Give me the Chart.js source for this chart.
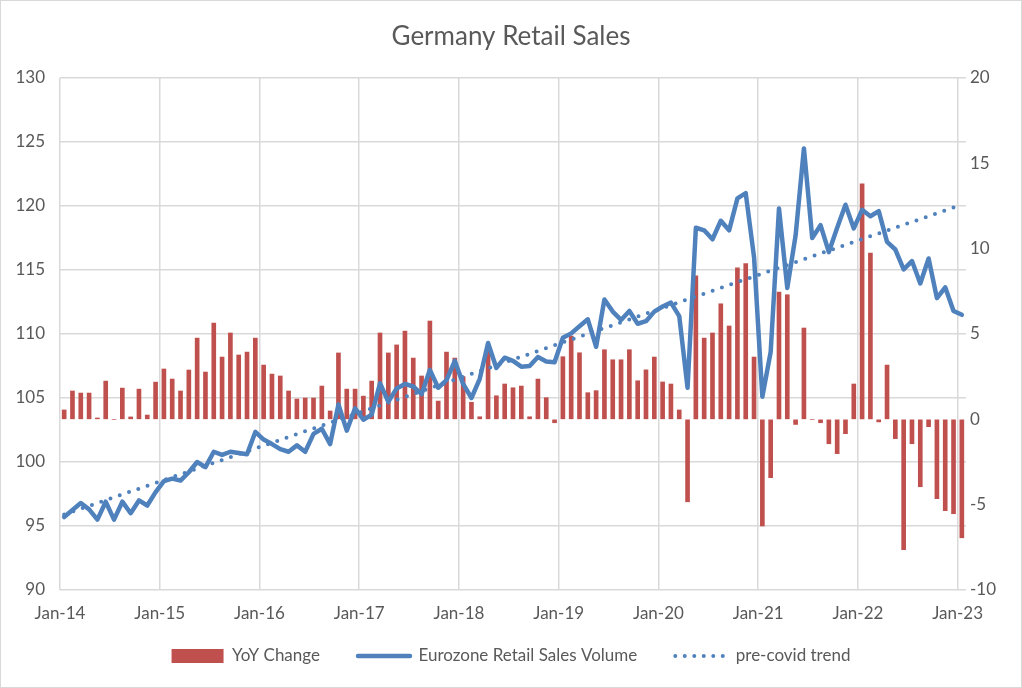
<!DOCTYPE html>
<html lang="en">
<head>
  <meta charset="UTF-8" />
  <title>Germany Retail Sales</title>
  <script src="https://cdn.jsdelivr.net/npm/chart.js"></script>
  <style>
    html, body { margin: 0; padding: 0; background: #fff; }
  </style>
</head>
<body>
<canvas id="chart" width="1022" height="688"></canvas>
<script type="text/javascript">
  // Year ticks on the x axis (one every 12 months, starting Jan-14)
  const tickLabels = ['Jan-14', 'Jan-15', 'Jan-16', 'Jan-17', 'Jan-18', 'Jan-19', 'Jan-20', 'Jan-21', 'Jan-22', 'Jan-23'];

  // YoY change in %, monthly Jan-14 .. Jan-23 (right axis)
  const yoyChange = [
    0.55, 1.66, 1.54, 1.54, 0.08, 2.24, 0, 1.83, 0.14, 1.77, 0.25, 2.18,
    2.95, 2.36, 1.66, 2.89, 4.76, 2.77, 5.64, 3.65, 5.06, 3.77, 3.94, 4.76,
    3.18, 2.65, 2.54, 1.66, 1.19, 1.25, 1.25, 1.95, 0.49, 3.89, 1.77, 1.77,
    1.36, 2.24, 5.06, 3.89, 4.36, 5.17, 3.59, 2.54, 5.76, 1.07, 3.94, 3.59,
    2.5, 1.0, 0.15, 4.2, 1.38, 2.07, 1.85, 1.95, 0.15, 2.36, 1.27, -0.2,
    3.67, 4.88, 3.9, 1.56, 1.68, 4.08, 3.49, 3.49, 4.08, 2.26, 2.9, 3.65,
    2.19, 2.07, 0.55, -4.83, 8.41, 4.76, 5.06, 6.77, 5.47, 8.88, 9.12, 3.65,
    -6.25, -3.42, 7.46, 7.3, -0.3, 5.35, 0, -0.2, -1.43, -2.01, -0.84, 2.07,
    13.8, 9.74, -0.15, 3.18, -1.13, -7.64, -1.43, -3.95, -0.43, -4.65, -5.35, -5.53,
    -6.94
  ];

  // Eurozone retail sales volume index, same months (left axis)
  const salesVolume = [
    95.7, 96.25, 96.8, 96.3, 95.5, 96.9, 95.5, 96.9, 96.0, 97.0, 96.6, 97.65,
    98.5, 98.7, 98.55, 99.2, 100.0, 99.6, 100.8, 100.55, 100.8, 100.7, 100.6, 102.35,
    101.75, 101.4, 101.0, 100.8, 101.3, 100.8, 102.2, 102.6, 101.4, 104.5, 102.45, 104.2,
    103.3, 103.7, 106.15, 104.7, 105.75, 106.1, 105.9, 105.3, 107.2, 105.8, 106.4, 107.9,
    106.1, 105.0, 106.5, 109.3, 107.35, 108.15, 107.9, 107.45, 107.5, 108.2, 107.85, 107.8,
    109.7, 110.05, 110.6, 111.15, 109.0, 112.7, 111.75, 111.1, 111.8, 110.8, 111.0, 111.75,
    112.15, 112.45, 111.4, 105.8, 118.3, 118.1, 117.4, 118.85, 118.1, 120.6, 121.0, 116.0,
    105.1, 108.6, 119.8, 113.6, 117.7, 124.5, 117.5, 118.5, 116.4, 118.3, 120.1, 118.25,
    119.7, 119.2, 119.6, 117.2, 116.6, 115.05, 115.7, 113.95, 115.9, 112.8, 113.65, 111.8,
    111.5
  ];

  // pre-covid trend: straight line, first and last month
  const trendMonths = [0, 108];
  const trendValues = [95.9, 120.1];

  const textColor = '#595959';
  const gridColor = '#d9d9d9';
  const fontFamily = 'Lato, "Open Sans", sans-serif';

  // monthly points sit in the middle of each month slot
  const toPoints = (values, months) => values.map((v, i) => ({x: (months ? months[i] : i) + 0.5, y: v}));

  // legend look per dataset
  const legendLook = [
    {pointStyle: 'rect', lineWidth: 0},
    {pointStyle: 'line', lineWidth: 4.5, lineDash: [], lineCap: 'round'},
    {pointStyle: 'line', lineWidth: 4, lineDash: [0, 9.5], lineCap: 'round'}
  ];

  // white background + thin outer border
  const frame = {
    id: 'frame',
    beforeDraw(chart) {
      const ctx = chart.ctx;
      ctx.save();
      ctx.fillStyle = '#fff';
      ctx.fillRect(0, 0, chart.width, chart.height);
      ctx.strokeStyle = gridColor;
      ctx.lineWidth = 1;
      ctx.strokeRect(0.5, 0.5, chart.width - 1, chart.height - 1);
      ctx.restore();
    }
  };

  // legend padding is also used vertically, pull the row up a bit
  const legendLift = {
    id: 'legendLift',
    afterLayout(chart) {
      chart.legend.top -= 13.5;
      chart.legend.bottom -= 13.5;
    }
  };

  new Chart(document.getElementById('chart'), {
    type: 'line',
    data: {
      datasets: [{
        type: 'bar',
        label: 'YoY Change',
        data: toPoints(yoyChange),
        yAxisID: 'y1',
        backgroundColor: '#C0504D',
        borderWidth: 0,
        barThickness: 4,
        order: 3
      }, {
        label: 'Eurozone Retail Sales Volume',
        data: toPoints(salesVolume),
        yAxisID: 'y',
        borderColor: '#4F81BD',
        backgroundColor: '#4F81BD',
        borderWidth: 4.5,
        borderJoinStyle: 'round',
        borderCapStyle: 'round',
        pointRadius: 0,
        tension: 0,
        order: 2
      }, {
        label: 'pre-covid trend',
        data: toPoints(trendValues, trendMonths),
        yAxisID: 'y',
        borderColor: '#4F81BD',
        backgroundColor: '#4F81BD',
        borderWidth: 4,
        borderDash: [0, 9.8],
        borderCapStyle: 'round',
        pointRadius: 0,
        order: 1
      }]
    },
    options: {
      responsive: false,
      animation: false,
      devicePixelRatio: 1,
      layout: { padding: 0 },
      scales: {
        x: {
          type: 'linear',
          min: 0,
          max: 109,
          offset: false,
          afterBuildTicks: scale => {
            scale.ticks = tickLabels.map((_, k) => ({value: k * 12}));
          },
          afterFit: scale => { scale.height = 33; },
          ticks: {
            autoSkip: false,
            maxRotation: 0,
            padding: 13,
            color: textColor,
            font: {family: fontFamily, size: 17},
            callback: (value, index) => tickLabels[index]
          },
          grid: { color: gridColor, lineWidth: 1.5, drawTicks: false, offset: false },
          border: { display: false }
        },
        y: {
          position: 'left',
          min: 90,
          max: 130,
          afterFit: scale => { scale.width = 60; },
          ticks: { stepSize: 5, padding: 15, color: textColor, font: {family: fontFamily, size: 17} },
          grid: { color: gridColor, lineWidth: 1.5, drawTicks: false },
          border: { display: false }
        },
        y1: {
          position: 'right',
          min: -10,
          max: 20,
          afterFit: scale => { scale.width = 56; },
          ticks: { stepSize: 5, padding: 4, color: textColor, font: {family: fontFamily, size: 17} },
          grid: { drawOnChartArea: false, drawTicks: false },
          border: { display: false }
        }
      },
      plugins: {
        title: {
          display: true,
          text: 'Germany Retail Sales',
          color: textColor,
          font: {family: fontFamily, size: 26, weight: 'normal'},
          padding: {top: 21.4, bottom: 25.4}
        },
        legend: {
          position: 'bottom',
          labels: {
            usePointStyle: true,
            pointStyleWidth: 52,
            boxHeight: 14,
            padding: 38,
            color: textColor,
            font: {family: fontFamily, size: 17},
            sort: (a, b) => a.datasetIndex - b.datasetIndex,
            generateLabels: chart => Chart.defaults.plugins.legend.labels.generateLabels(chart)
              .map(item => Object.assign(item, legendLook[item.datasetIndex]))
          }
        },
        tooltip: { enabled: false }
      }
    },
    plugins: [frame, legendLift]
  });
</script>
</body>
</html>
